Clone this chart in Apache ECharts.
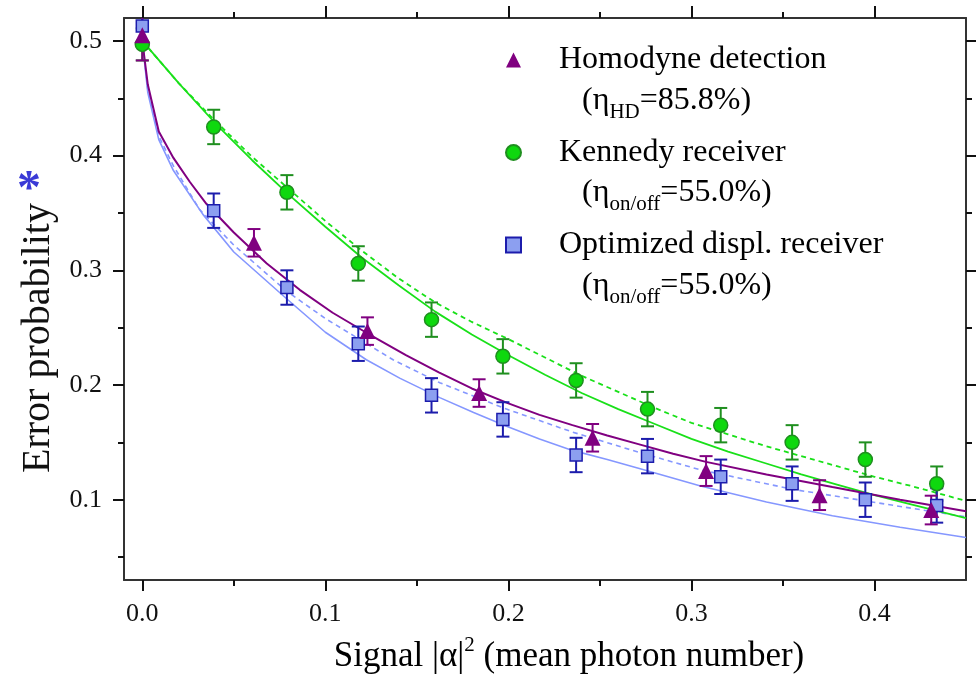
<!DOCTYPE html>
<html>
<head>
<meta charset="utf-8">
<script src="https://cdn.jsdelivr.net/npm/echarts@6/dist/echarts.min.js"></script>
<style>
  html, body { margin: 0; padding: 0; background: #fff; }
  #chart { width: 976px; height: 678px; }
</style>
</head>
<body>
<div id="chart"></div>
<script>
// Axis ticks
const xTicks = [0, 0.1, 0.2, 0.3, 0.4];
const xMinorTicks = [0.05, 0.15, 0.25, 0.35];
const yTicks = [0.1, 0.2, 0.3, 0.4, 0.5];
const yMinorTicks = [0.05, 0.15, 0.25, 0.35, 0.45];

// Measured error probabilities vs mean photon number
const homodyneX   = [0, 0.061, 0.123, 0.184, 0.246, 0.308, 0.370, 0.431];
const homodyneY   = [0.505, 0.324, 0.247, 0.193, 0.154, 0.125, 0.104, 0.091];
const homodyneErr = [0.022, 0.012, 0.012, 0.012, 0.012, 0.013, 0.013, 0.0125];

const kennedyX   = [0, 0.039, 0.079, 0.118, 0.158, 0.197, 0.237, 0.276, 0.316, 0.355, 0.395, 0.434];
const kennedyY   = [0.497, 0.425, 0.368, 0.306, 0.257, 0.225, 0.204, 0.179, 0.165, 0.150, 0.135, 0.114];
const kennedyErr = [0.014, 0.015, 0.015, 0.015, 0.015, 0.015, 0.015, 0.015, 0.015, 0.015, 0.015, 0.015];

const optimizedX   = [0, 0.039, 0.079, 0.118, 0.158, 0.197, 0.237, 0.276, 0.316, 0.355, 0.395, 0.434];
const optimizedY   = [0.513, 0.352, 0.285, 0.236, 0.191, 0.170, 0.139, 0.138, 0.120, 0.114, 0.100, 0.095];
const optimizedErr = [0.015, 0.015, 0.015, 0.015, 0.015, 0.015, 0.015, 0.015, 0.015, 0.015, 0.015, 0.015];

// Theory curves [mean photon number, error probability]
const homodyneTheory = [
  [0, 0.5], [0.003, 0.462], [0.009, 0.421], [0.017, 0.398], [0.026, 0.377], [0.035, 0.358],
  [0.05, 0.333], [0.068, 0.306], [0.086, 0.283], [0.104, 0.263], [0.122, 0.246], [0.144, 0.226],
  [0.162, 0.211], [0.18, 0.197], [0.2, 0.184], [0.217, 0.174], [0.235, 0.165], [0.254, 0.156],
  [0.272, 0.148], [0.29, 0.140], [0.308, 0.133], [0.341, 0.122], [0.377, 0.111], [0.414, 0.100],
  [0.45, 0.090]
];
const kennedyTheory = [
  [0, 0.5], [0.02, 0.463], [0.04, 0.428], [0.06, 0.396], [0.08, 0.366], [0.10, 0.338],
  [0.12, 0.311], [0.14, 0.287], [0.16, 0.264], [0.18, 0.244], [0.20, 0.226], [0.22, 0.209],
  [0.24, 0.193], [0.26, 0.179], [0.28, 0.166], [0.30, 0.153], [0.32, 0.142], [0.34, 0.132],
  [0.36, 0.122], [0.38, 0.113], [0.40, 0.104], [0.42, 0.096], [0.45, 0.084]
];
const kennedyTheoryDashed = [
  [0, 0.5], [0.02, 0.463], [0.04, 0.430], [0.06, 0.399], [0.08, 0.371], [0.10, 0.343],
  [0.12, 0.317], [0.14, 0.293], [0.16, 0.272], [0.18, 0.255], [0.20, 0.240], [0.22, 0.224],
  [0.24, 0.208], [0.26, 0.194], [0.28, 0.180], [0.30, 0.167], [0.32, 0.157], [0.34, 0.147],
  [0.36, 0.138], [0.38, 0.129], [0.40, 0.120], [0.42, 0.112], [0.45, 0.099]
];
const optimizedTheory = [
  [0, 0.5], [0.003, 0.455], [0.009, 0.414], [0.017, 0.387], [0.033, 0.349], [0.05, 0.316],
  [0.079, 0.275], [0.1, 0.246], [0.1224, 0.222], [0.1406, 0.206], [0.1625, 0.189], [0.181, 0.176],
  [0.199, 0.164], [0.217, 0.153], [0.235, 0.143], [0.254, 0.135], [0.272, 0.127], [0.305, 0.112],
  [0.341, 0.098], [0.377, 0.086], [0.414, 0.076], [0.45, 0.067]
];
const optimizedTheoryDashed = [
  [0, 0.5], [0.003, 0.458], [0.009, 0.417], [0.017, 0.391], [0.0313, 0.353], [0.05, 0.322],
  [0.0787, 0.282], [0.1, 0.258], [0.137, 0.222], [0.1625, 0.202], [0.199, 0.179], [0.235, 0.159],
  [0.272, 0.141], [0.305, 0.126], [0.3555, 0.109], [0.395, 0.099], [0.45, 0.085]
];

const names = ['Homodyne detection', 'Kennedy receiver', 'Optimized displ. receiver'];

const SERIF = 'Liberation Serif';
const PURPLE = '#800080';
const GREEN_LINE = '#19e019';
const GREEN_FILL = '#0ed80e';
const GREEN_DARK = '#1f8f1f';
const BLUE_LINE = '#8597ff';
const BLUE_FILL = '#8c9ff0';
const BLUE_DARK = '#1c1cac';
const AXIS = '#333';

function errorBars(xs, ys, errs, color) {
  return {
    type: 'custom',
    xAxisIndex: 0, yAxisIndex: 0,
    silent: true, clip: true, z: 3,
    data: xs.map((x, i) => [x, ys[i] - errs[i], ys[i] + errs[i]]),
    encode: { x: 0, y: [1, 2] },
    renderItem: (params, api) => {
      const lo = api.coord([api.value(0), api.value(1)]);
      const hi = api.coord([api.value(0), api.value(2)]);
      const w = 6.5;
      const style = { stroke: color, lineWidth: 2 };
      return {
        type: 'group',
        children: [
          { type: 'line', shape: { x1: lo[0], y1: lo[1], x2: hi[0], y2: hi[1] }, style },
          { type: 'line', shape: { x1: lo[0] - w, y1: lo[1], x2: lo[0] + w, y2: lo[1] }, style },
          { type: 'line', shape: { x1: hi[0] - w, y1: hi[1], x2: hi[0] + w, y2: hi[1] }, style }
        ]
      };
    }
  };
}

function theoryLine(data, color, width, dashed) {
  return {
    type: 'line', xAxisIndex: 0, yAxisIndex: 0,
    data, showSymbol: false, symbol: 'none', silent: true, z: 2,
    smooth: false,
    lineStyle: { color, width, type: dashed ? [5, 4] : 'solid' }
  };
}

function points(name, xs, ys, symbol, size, fill, border) {
  return {
    type: 'scatter', name, xAxisIndex: 0, yAxisIndex: 0, z: 4,
    symbol, symbolSize: size,
    data: xs.map((x, i) => [x, ys[i]]),
    itemStyle: { color: fill, borderColor: border, borderWidth: border ? 1.5 : 0, opacity: 1 }
  };
}

const axisLineStyle = { color: AXIS, width: 2 };
const tickStyle = { color: '#111', width: 2 };

function xAxisDef(position, ticks, len, labels) {
  return {
    type: 'value', min: -0.01, max: 0.45, position,
    axisLine: { show: labels !== null, onZero: false, lineStyle: axisLineStyle },
    axisTick: { show: true, inside: false, length: len, customValues: ticks, lineStyle: tickStyle },
    axisLabel: labels ? {
      show: true, customValues: ticks, formatter: v => v.toFixed(1),
      fontFamily: SERIF, fontSize: 26, color: '#111', margin: 21
    } : { show: false },
    splitLine: { show: false }
  };
}
function yAxisDef(position, ticks, len, labels) {
  return {
    type: 'value', min: 0.03, max: 0.52, position,
    axisLine: { show: labels !== null, onZero: false, lineStyle: axisLineStyle },
    axisTick: { show: true, inside: false, length: len, customValues: ticks, lineStyle: tickStyle },
    axisLabel: labels ? {
      show: true, customValues: ticks, formatter: v => v.toFixed(1),
      fontFamily: SERIF, fontSize: 26, color: '#111', margin: 22
    } : { show: false },
    splitLine: { show: false }
  };
}

const etaRich = {
  p: { fontFamily: SERIF, fontSize: 32, color: '#000', lineHeight: 44, verticalAlign: 'middle' },
  s: { fontFamily: SERIF, fontSize: 21, color: '#000', lineHeight: 10, verticalAlign: 'bottom' }
};

const chart = echarts.init(document.getElementById('chart'), null, { renderer: 'canvas' });
chart.setOption({
  animation: false,
  backgroundColor: '#fff',
  grid: { left: 124, right: 10, top: 18, bottom: 98, containLabel: false, outerBoundsMode: 'none' },
  xAxis: [
    xAxisDef('bottom', xTicks, 11, true),
    xAxisDef('bottom', xMinorTicks, 6, null),
    xAxisDef('top', xTicks, 12, false),
    xAxisDef('top', xMinorTicks, 6, null)
  ],
  yAxis: [
    yAxisDef('left', yTicks, 11, true),
    yAxisDef('left', yMinorTicks, 6, null),
    yAxisDef('right', yTicks, 11, false),
    yAxisDef('right', yMinorTicks, 6, null)
  ],
  legend: {
    data: names,
    orient: 'vertical',
    left: 500, top: 39,
    itemWidth: 15, itemHeight: 15,
    itemGap: 60.5,
    selectedMode: false,
    textStyle: { fontFamily: SERIF, fontSize: 32, color: '#000', padding: [0, 0, 0, 33] }
  },
  graphic: [
    { type: 'text', left: 582, top: 85,
      style: { text: '{p|(η}{s|HD}{p|=85.8%)}', rich: etaRich } },
    { type: 'text', left: 582, top: 177,
      style: { text: '{p|(η}{s|on/off}{p|=55.0%)}', rich: etaRich } },
    { type: 'text', left: 582, top: 270,
      style: { text: '{p|(η}{s|on/off}{p|=55.0%)}', rich: etaRich } },
    { type: 'text', x: 38, y: 338, rotation: Math.PI / 2,
      style: { text: 'Error probability', fontFamily: SERIF, fontSize: 40, fill: '#111',
               align: 'center', verticalAlign: 'middle' } },
    { type: 'text', x: 29, y: 191,
      style: { text: '*', fontFamily: SERIF, fontSize: 48, fontWeight: 'bold', fill: '#3a3ad6',
               align: 'center', verticalAlign: 'middle' } },
    { type: 'text', x: 569, y: 657,
      style: {
        text: '{t|Signal |α|}{u|2}{t| (mean photon number)}',
        align: 'center', verticalAlign: 'middle',
        rich: {
          t: { fontFamily: SERIF, fontSize: 35, color: '#111', lineHeight: 44, verticalAlign: 'middle' },
          u: { fontFamily: SERIF, fontSize: 21, color: '#111', lineHeight: 14, verticalAlign: 'top' }
        }
      } }
  ],
  series: [
    theoryLine(optimizedTheory, BLUE_LINE, 1.6, false),
    theoryLine(optimizedTheoryDashed, BLUE_LINE, 1.6, true),
    theoryLine(kennedyTheory, GREEN_LINE, 1.8, false),
    theoryLine(kennedyTheoryDashed, GREEN_LINE, 1.8, true),
    theoryLine(homodyneTheory, PURPLE, 2, false),
    errorBars(kennedyX, kennedyY, kennedyErr, GREEN_DARK),
    errorBars(optimizedX, optimizedY, optimizedErr, BLUE_DARK),
    errorBars(homodyneX, homodyneY, homodyneErr, PURPLE),
    points(names[1], kennedyX, kennedyY, 'circle', 14, GREEN_FILL, GREEN_DARK),
    points(names[2], optimizedX, optimizedY, 'rect', 12, BLUE_FILL, BLUE_DARK),
    points(names[0], homodyneX, homodyneY, 'triangle', 16, PURPLE, null)
  ]
});
</script>
</body>
</html>
